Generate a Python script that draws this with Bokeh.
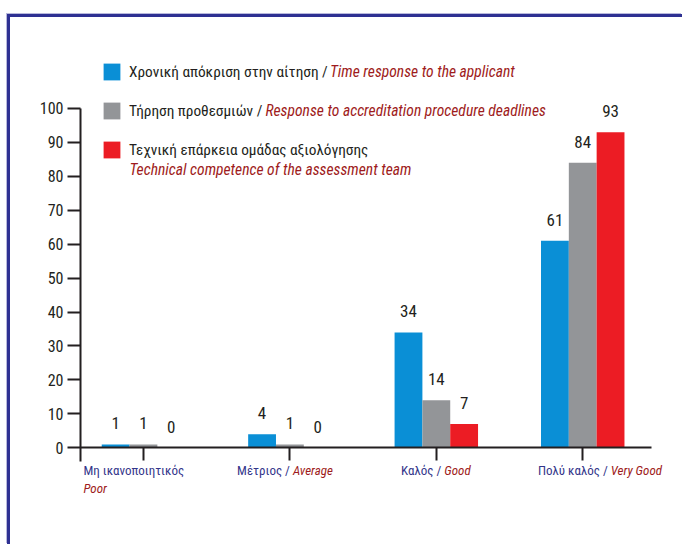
from bokeh.plotting import figure
from bokeh.models import Label, Range1d, FixedTicker, ColumnDataSource, Legend, LegendItem
from bokeh.core.properties import value
from bokeh.embed import file_html
from bokeh.resources import INLINE

# ---- data ----
categories_el = ["Μη ικανοποιητικός", "Μέτριος /", "Καλός /", "Πολύ καλός /"]
categories_en = ["Poor", "Average", "Good", "Very Good"]
series_el = ["Χρονική απόκριση στην αίτηση /", "Τήρηση προθεσμιών /",
             "Τεχνική επάρκεια ομάδας αξιολόγησης"]
series_en = ["Time response to the applicant",
             "Response to accreditation procedure deadlines",
             "Technical competence of the assessment team"]
time_response = [1, 4, 34, 61]
deadlines = [1, 1, 14, 84]
competence = [0, 0, 7, 93]
y_ticks = [0, 10, 20, 30, 40, 50, 60, 70, 80, 90, 100]

# ---- style ----
FONT = "Roboto Condensed"
DARK = "#231f20"
NAVY = "#33358a"
DRED = "#9e1b20"
COLORS = ["#0a8fd6", "#939598", "#ec1c24"]
BAR_W = 0.19
DODGE = [-BAR_W, 0.0, BAR_W]

p = figure(width=675, height=530, x_range=Range1d(-0.43, 3.654), y_range=Range1d(-17, 115),
           output_backend="svg", toolbar_location=None,
           min_border_left=70, min_border_right=7, min_border_top=40, min_border_bottom=42)
p.styles = {"border-top": "3px solid #2e3192", "border-left": "3px solid #2e3192",
            "margin-top": "14px", "margin-left": "7px",
            "box-shadow": "-1px -1px 0 #b8b9dc"}
p.outline_line_color = None
p.xgrid.grid_line_color = None
p.ygrid.grid_line_color = None
p.background_fill_color = "white"
p.border_fill_color = "white"

# axes
p.yaxis.ticker = FixedTicker(ticks=y_ticks)
p.yaxis.bounds = (-4.1, 100)
p.yaxis.minor_tick_line_color = None
p.yaxis.major_tick_in = 0
p.yaxis.major_tick_out = 13
p.yaxis.major_tick_line_width = 2
p.yaxis.major_tick_line_color = DARK
p.yaxis.axis_line_width = 2
p.yaxis.axis_line_color = DARK
p.yaxis.major_label_text_font = FONT
p.yaxis.major_label_text_font_size = "16px"
p.yaxis.major_label_text_color = DARK
p.yaxis.major_label_standoff = 4

p.xaxis.fixed_location = 0
p.xaxis.bounds = (-0.43, 3.47)
p.xaxis.ticker = FixedTicker(ticks=list(range(len(categories_el))))
p.xaxis.minor_tick_line_color = None
p.xaxis.major_tick_in = 0
p.xaxis.major_tick_out = 13
p.xaxis.major_tick_line_width = 2
p.xaxis.major_tick_line_color = DARK
p.xaxis.axis_line_width = 2
p.xaxis.axis_line_color = DARK
p.xaxis.major_label_overrides = {i: "" for i in range(len(categories_el))}

# bars + value labels
renderers = []
for k, vals in enumerate([time_response, deadlines, competence]):
    xs = [i + DODGE[k] for i in range(len(vals))]
    src = ColumnDataSource(dict(x=xs, top=vals, txt=[str(v) for v in vals]))
    r = p.vbar(x="x", top="top", width=BAR_W, source=src, fill_color=COLORS[k], line_color=None)
    renderers.append(r)
    p.text(x="x", y="top", text="txt", source=src, text_align="center", text_baseline="middle",
           y_offset=-21, text_font=value(FONT), text_font_size="17px", text_color=DARK)

# legend (Greek parts)
legend = Legend(items=[LegendItem(label=series_el[k], renderers=[renderers[k]]) for k in range(3)],
                location=(21, 345), glyph_width=21, glyph_height=21, label_standoff=7,
                spacing=18, label_height=20, padding=0, margin=0,
                border_line_color=None, background_fill_alpha=0,
                label_text_font=FONT, label_text_font_size="15.3px", label_text_color=DARK)
p.add_layout(legend)

# legend (English parts)
en_pos = [(249.5, 434), (185, 395), (49, 336)]
for k in range(3):
    ex, ey = en_pos[k]
    p.add_layout(Label(x=ex, y=ey, x_units="screen", y_units="screen", text=series_en[k],
                       text_font=FONT, text_font_size="15.6px", text_font_style="italic",
                       text_color=DRED, text_baseline="middle"))

# category labels
split = [None, 0, 5, 25]
for i in range(len(categories_el)):
    if split[i] is None:
        p.add_layout(Label(x=i, y=0, x_offset=-60, y_offset=-23, text=categories_el[i],
                           text_font=FONT, text_font_size="13px", text_color=NAVY,
                           text_baseline="middle", text_align="left"))
        p.add_layout(Label(x=i, y=0, x_offset=-60, y_offset=-41, text=categories_en[i],
                           text_font=FONT, text_font_size="13px", text_font_style="italic",
                           text_color=DRED, text_baseline="middle", text_align="left"))
    else:
        p.add_layout(Label(x=i, y=0, x_offset=split[i], y_offset=-23, text=categories_el[i],
                           text_font=FONT, text_font_size="13px", text_color=NAVY,
                           text_baseline="middle", text_align="right"))
        p.add_layout(Label(x=i, y=0, x_offset=split[i] + 3, y_offset=-23, text=categories_en[i],
                           text_font=FONT, text_font_size="13px", text_font_style="italic",
                           text_color=DRED, text_baseline="middle", text_align="left"))

open("out.html", "w").write(file_html(p, INLINE))
